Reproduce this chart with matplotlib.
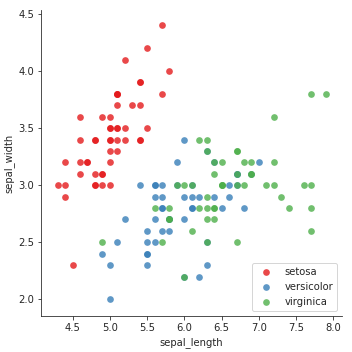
import matplotlib
matplotlib.use("Agg")
import matplotlib.pyplot as plt
import seaborn as sns

species = ["setosa", "versicolor", "virginica"]

setosa_sl = [5.1,4.9,4.7,4.6,5.0,5.4,4.6,5.0,4.4,4.9,5.4,4.8,4.8,4.3,5.8,5.7,5.4,5.1,5.7,5.1,
             5.4,5.1,4.6,5.1,4.8,5.0,5.0,5.2,5.2,4.7,4.8,5.4,5.2,5.5,4.9,5.0,5.5,4.9,4.4,5.1,
             5.0,4.5,4.4,5.0,5.1,4.8,5.1,4.6,5.3,5.0]
setosa_sw = [3.5,3.0,3.2,3.1,3.6,3.9,3.4,3.4,2.9,3.1,3.7,3.4,3.0,3.0,4.0,4.4,3.9,3.5,3.8,3.8,
             3.4,3.7,3.6,3.3,3.4,3.0,3.4,3.5,3.4,3.2,3.1,3.4,4.1,4.2,3.1,3.2,3.5,3.6,3.0,3.4,
             3.5,2.3,3.2,3.5,3.8,3.0,3.8,3.2,3.7,3.3]
versicolor_sl = [7.0,6.4,6.9,5.5,6.5,5.7,6.3,4.9,6.6,5.2,5.0,5.9,6.0,6.1,5.6,6.7,5.6,5.8,6.2,5.6,
                 5.9,6.1,6.3,6.1,6.4,6.6,6.8,6.7,6.0,5.7,5.5,5.5,5.8,6.0,5.4,6.0,6.7,6.3,5.6,5.5,
                 5.5,6.1,5.8,5.0,5.6,5.7,5.7,6.2,5.1,5.7]
versicolor_sw = [3.2,3.2,3.1,2.3,2.8,2.8,3.3,2.4,2.9,2.7,2.0,3.0,2.2,2.9,2.9,3.1,3.0,2.7,2.2,2.5,
                 3.2,2.8,2.5,2.8,2.9,3.0,2.8,3.0,2.9,2.6,2.4,2.4,2.7,2.7,3.0,3.4,3.1,2.3,3.0,2.5,
                 2.6,3.0,2.6,2.3,2.7,3.0,2.9,2.9,2.5,2.8]
virginica_sl = [6.3,5.8,7.1,6.3,6.5,7.6,4.9,7.3,6.7,7.2,6.5,6.4,6.8,5.7,5.8,6.4,6.5,7.7,7.7,6.0,
                6.9,5.6,7.7,6.3,6.7,7.2,6.2,6.1,6.4,7.2,7.4,7.9,6.4,6.3,6.1,7.7,6.3,6.4,6.0,6.9,
                6.7,6.9,5.8,6.8,6.7,6.7,6.3,6.5,6.2,5.9]
virginica_sw = [3.3,2.7,3.0,2.9,3.0,3.0,2.5,2.9,2.5,3.6,3.2,2.7,3.0,2.5,2.8,3.2,3.0,3.8,2.6,2.2,
                3.2,2.8,2.8,2.7,3.3,3.2,2.8,3.0,2.8,3.0,2.8,3.8,2.8,2.8,2.6,3.0,3.4,3.1,3.0,3.1,
                3.1,3.1,2.7,3.2,3.3,3.0,2.5,3.0,3.4,3.0]

xs = [setosa_sl, versicolor_sl, virginica_sl]
ys = [setosa_sw, versicolor_sw, virginica_sw]

sns.set_style("ticks")
colors = sns.color_palette("Set1", 3)

fig = plt.figure(figsize=(352/72, 352/72), dpi=72)
ax = fig.add_axes([41/352, 36/352, 301/352, 306/352])
for name, x, y, c in zip(species, xs, ys, colors):
    ax.scatter(x, y, s=45, color=c, alpha=0.8, linewidths=0, label=name)

ax.set_xlim(4.076, 8.116)
ax.set_ylim(1.854, 4.535)
ax.set_xticks([4.5, 5.0, 5.5, 6.0, 6.5, 7.0, 7.5, 8.0])
ax.set_yticks([2.0, 2.5, 3.0, 3.5, 4.0, 4.5])
ax.set_xlabel("sepal_length")
ax.set_ylabel("sepal_width")
sns.despine(ax=ax)
ax.legend(loc="lower right", frameon=True)

fig.savefig("out.png", dpi=72)
